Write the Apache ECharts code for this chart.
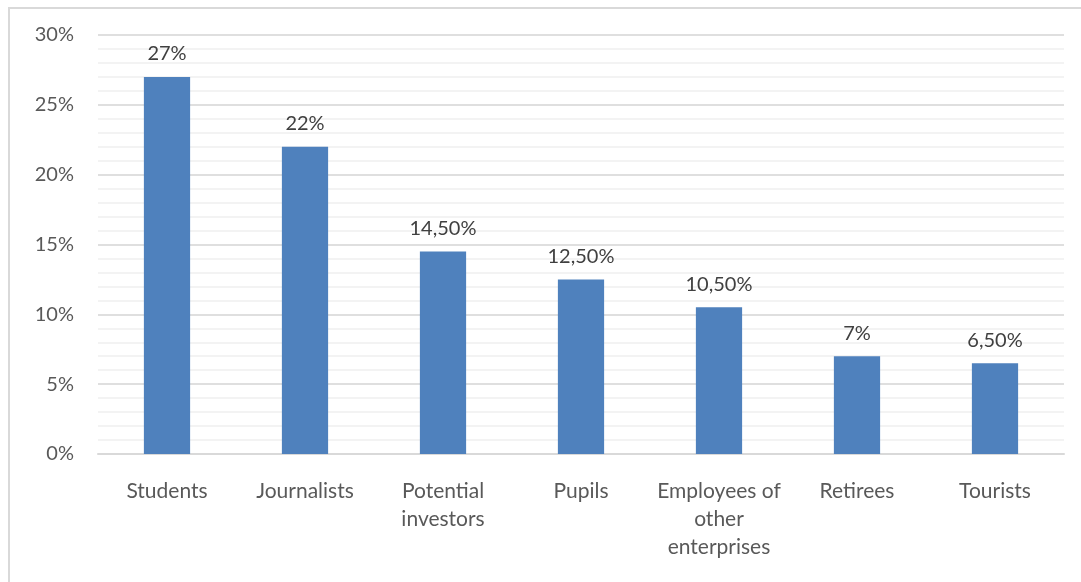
<!DOCTYPE html>
<html>
<head>
<meta charset="utf-8">
<script src="https://cdn.jsdelivr.net/npm/echarts@6/dist/echarts.min.js"></script>
<style>
html,body{margin:0;padding:0;background:#fff;}
#c{width:1081px;height:582px;}
</style>
</head>
<body>
<div id="c"></div>
<script>
var categories = ['Students', 'Journalists', 'Potential\ninvestors', 'Pupils', 'Employees of\nother\nenterprises', 'Retirees', 'Tourists'];
var values = [27, 22, 14.5, 12.5, 10.5, 7, 6.5];
var yTicks = [0, 5, 10, 15, 20, 25, 30];

function fmt(v) {
  if (Math.round(v) === v) return v + '%';
  return v.toFixed(2).replace('.', ',') + '%';
}

var chart = echarts.init(document.getElementById('c'), null, {renderer: 'canvas'});
var FONT = 'Lato';
chart.setOption({
  animation: false,
  backgroundColor: '#ffffff',
  graphic: [{
    type: 'rect',
    shape: {x: 9, y: 8, width: 1200, height: 700},
    style: {fill: 'none', stroke: '#d9d9d9', lineWidth: 2},
    silent: true
  }],
  grid: {left: 98, right: 17, top: 35, bottom: 128, containLabel: false},
  xAxis: {
    type: 'category',
    data: categories,
    axisLine: {show: true, lineStyle: {color: '#d9d9d9', width: 2}},
    axisTick: {show: false},
    axisLabel: {
      interval: 0,
      margin: 23,
      color: '#595959',
      fontFamily: FONT,
      fontSize: 21,
      lineHeight: 28
    }
  },
  yAxis: {
    type: 'value',
    min: yTicks[0],
    max: yTicks[yTicks.length - 1],
    interval: 5,
    axisLine: {show: false},
    axisTick: {show: false},
    axisLabel: {
      margin: 24,
      color: '#595959',
      fontFamily: FONT,
      fontSize: 20,
      formatter: function (v) { return v + '%'; }
    },
    splitLine: {show: true, lineStyle: {color: '#d4d4d4', width: 1.5}},
    minorTick: {show: false, splitNumber: 5},
    minorSplitLine: {show: true, lineStyle: {color: '#f0f0f0', width: 1.5}}
  },
  series: [{
    type: 'bar',
    data: values,
    barWidth: '33.5%',
    itemStyle: {color: '#4f81bd'},
    label: {
      show: true,
      position: 'top',
      distance: 13,
      color: '#404040',
      fontFamily: FONT,
      fontSize: 20,
      formatter: function (p) { return fmt(p.value); }
    }
  }]
});
</script>
</body>
</html>
